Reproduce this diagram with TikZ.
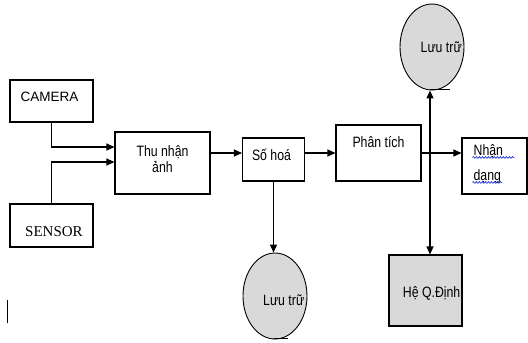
\documentclass[tikz,border=0pt]{standalone}
\usepackage{fontspec}
\setmainfont{Liberation Sans}
\newfontfamily\narrowsans[FakeStretch=0.82]{Liberation Sans}
\newfontfamily\serifface{Liberation Serif}
\usetikzlibrary{arrows.meta,shapes.geometric,decorations.pathmorphing}
\definecolor{box-gray}{RGB}{217,217,217}
\definecolor{spell-blue}{RGB}{40,60,220}
\tikzset{
    plain-box/.style = {draw, line width=1.1pt, rectangle, inner sep=0pt},
    store-oval/.style = {draw, fill=box-gray, line width=0.9pt, ellipse, minimum width=64pt, minimum height=86pt, inner sep=0pt},
    flow-arrow/.style = {line width=1.1pt, -{Triangle[length=8pt,width=7pt]}},
    both-arrow/.style = {line width=1.1pt, {Triangle[length=8pt,width=7pt]}-{Triangle[length=8pt,width=7pt]}},
    box-text/.style = {font=\narrowsans\fontsize{15}{16}\selectfont, inner sep=1pt},
    spell-wave/.style = {draw=spell-blue, line width=0.7pt, decorate, decoration={snake, amplitude=0.9pt, segment length=3pt}},
}

\begin{document}
\begin{tikzpicture}[x=1pt, y=-1pt]
\useasboundingbox (0,0) rectangle (528,343);
\node[plain-box, minimum width=83pt, minimum height=42pt] (camera) at (51.5,101) {};
\node[box-text, font=\fontsize{13.5}{16}\selectfont] (camera-txt) at ([xshift=-2pt,yshift=4pt]camera.center) {CAMERA};
\node[plain-box, minimum width=83pt, minimum height=43pt] (sensor) at (51.5,225.5) {};
\node[box-text, font=\serifface\fontsize{15}{16}\selectfont] (sensor-txt) at ([xshift=2.5pt,yshift=-6.5pt]sensor.center) {SENSOR};
\node[plain-box, minimum width=95pt, minimum height=62pt] (thu) at (162.5,163) {};
\node[box-text, align=center] (thu-txt) at ([yshift=4pt]thu.center) {Thu nhận\\ảnh};
\node[plain-box, minimum width=62pt, minimum height=43pt] (so) at (273.5,159.5) {};
\node[box-text] (so-txt) at ([xshift=-2pt,yshift=5pt]so.center) {Số hoá};
\node[plain-box, minimum width=85pt, minimum height=56pt] (phan) at (378.5,153) {};
\node[box-text] (phan-txt) at ([yshift=11pt]phan.center) {Phân tích};
\node[plain-box, minimum width=65pt, minimum height=56pt] (nhan) at (494.5,166) {};
\node[box-text, anchor=base west] (nhan-a) at ([xshift=11pt,yshift=-18pt]nhan.north west) {Nhận};
\node[box-text, anchor=base west] (nhan-b) at ([xshift=11pt,yshift=-43pt]nhan.north west) {dạng};
\node[plain-box, fill=box-gray, minimum width=73pt, minimum height=71pt] (hqd) at (425.5,290.5) {};
\node[box-text, anchor=east] (hqd-txt) at ([xshift=-1pt,yshift=-2.5pt]hqd.east) {Hệ Q.Định};
\node[store-oval] (store-top) at (432,47) {};
\node[box-text, anchor=east] (store-top-txt) at ([xshift=-1.5pt]store-top.east) {Lưu trữ};
\node[store-oval] (store-bottom) at (275,296) {};
\node[box-text, anchor=east] (store-bottom-txt) at ([xshift=-2pt,yshift=-4pt]store-bottom.east) {Lưu trữ};

\coordinate (flow) at (0,153);
\coordinate (tap) at (430,153);
\draw[flow-arrow] (camera.south) |- ([yshift=16pt]thu.west);
\draw[flow-arrow] (sensor.north) |- ([yshift=1pt]thu.west);
\draw[flow-arrow] (thu.east |- flow) -- (so.west |- flow);
\draw[flow-arrow] (so.east |- flow) -- (phan.west |- flow);
\draw[flow-arrow] (phan.east |- flow) -- (nhan.west |- flow);
\draw[flow-arrow] (so.south) -- (so.south |- store-bottom.north);
\draw[both-arrow] (tap |- store-top.south) -- (tap |- hqd.north);

\draw[spell-wave] ([yshift=-2pt]nhan-a.base west) -- ([xshift=10pt,yshift=-2pt]nhan-a.base east);
\draw[spell-wave] ([yshift=-2pt]nhan-b.base west) -- ([yshift=-2pt]nhan-b.base east);
\draw[line width=0.8pt] (430,89) -- (450,89);
\draw[line width=0.8pt] (274,338) -- (288,338);
\draw[line width=1pt] (7,300) -- (7,323);
\end{tikzpicture}
\end{document}
